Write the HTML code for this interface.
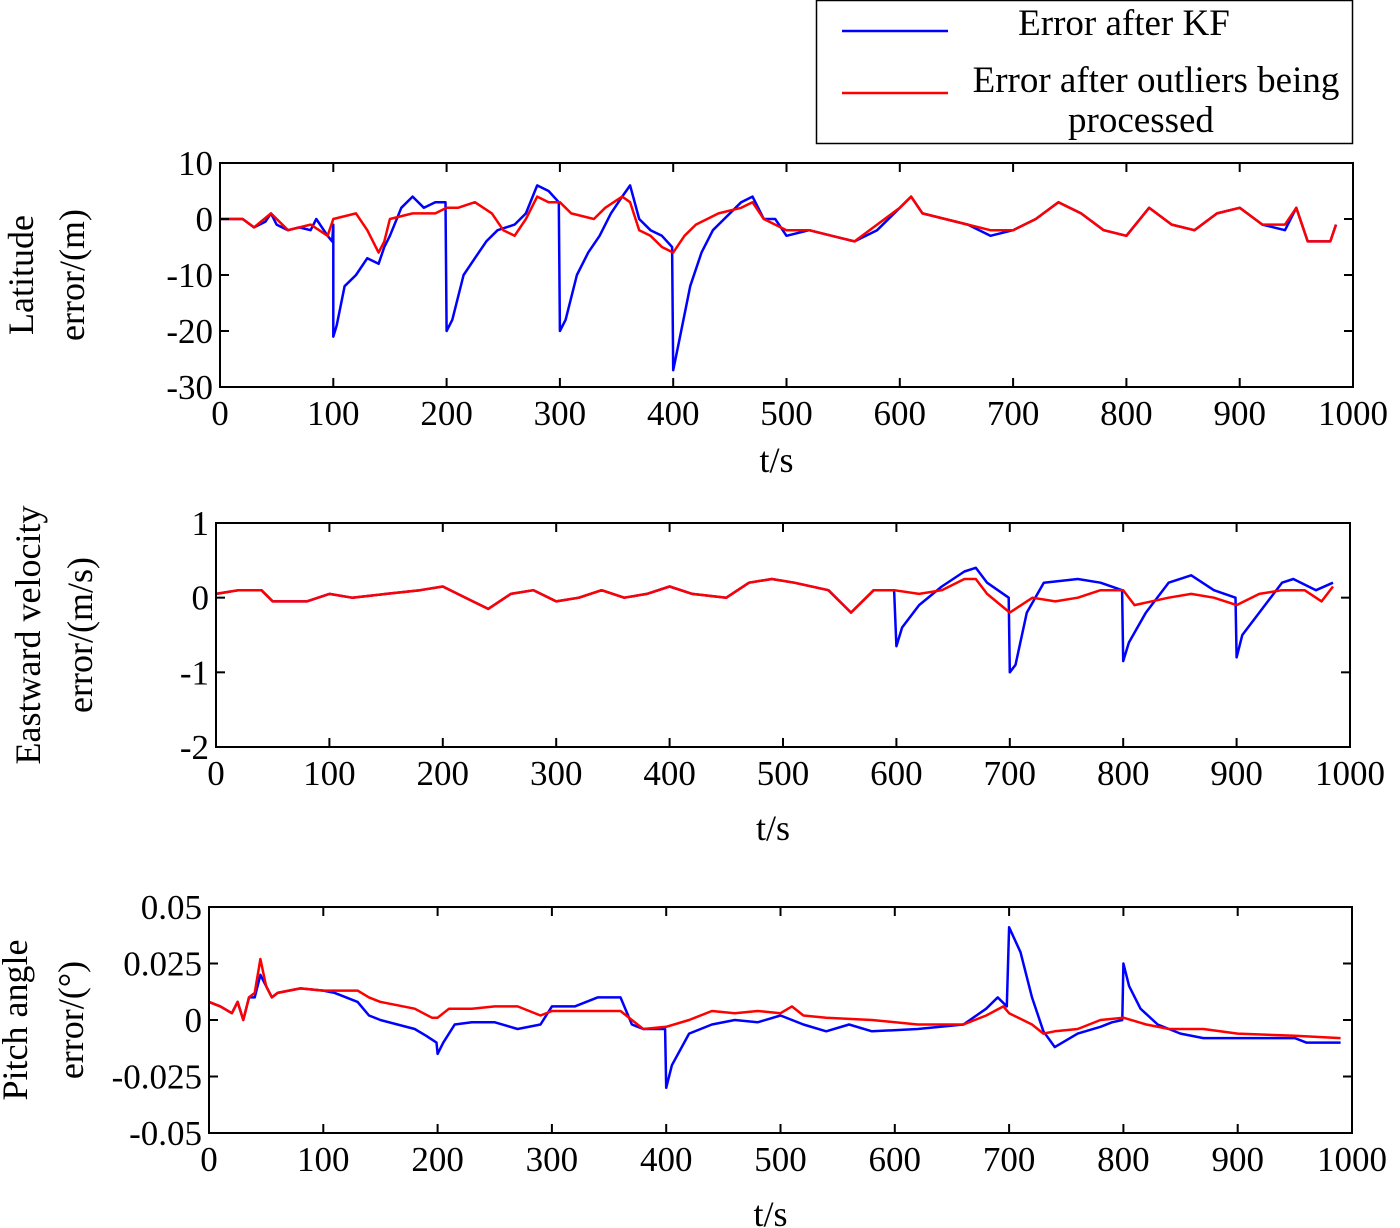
<!DOCTYPE html>
<html><head><meta charset="utf-8"><style>
body{margin:0;background:#fff;}
svg{display:block;font-family:"Liberation Serif",serif;}
</style></head><body>
<svg id="c" width="1400" height="1228" viewBox="0 0 1400 1228">
<g>
<rect x="816.5" y="0.5" width="536" height="143" fill="#fff" stroke="#000" stroke-width="1.5"/>
<line x1="842" y1="31" x2="948" y2="31" stroke="#0000ff" stroke-width="2.5"/>
<text x="1124" y="35" font-size="37" text-anchor="middle">Error after KF</text>
<line x1="842" y1="93" x2="948" y2="93" stroke="#ff0000" stroke-width="2.5"/>
<text x="1156" y="92" font-size="37" text-anchor="middle">Error after outliers being</text>
<text x="1141" y="132" font-size="37" text-anchor="middle">processed</text>
</g>
</svg>
<script>
// Panel 1: latitude error
const latKfT=[0,20,30,40,45,50,60,70,80,85,95,99,100,100,103,110,120,130,140,145,150,160,170,180,190,199,200,205,215,225,235,245,260,270,280,290,299,300,305,315,325,335,345,355,362,370,380,390,399,400,405,415,425,435,445,460,470,480,490,500,520,540,560,580,600,610,620,640,660,680,700,720,740,760,780,800,820,840,860,880,900,920,940,950,960,980,985];
const latKfV=[0,0,-1.5,-0.5,1,-1,-2,-1.5,-2,0,-3,-4,-1,-21,-19,-12,-10,-7,-8,-5,-3,2,4,2,3,3,-20,-18,-10,-7,-4,-2,-1,1,6,5,3,-20,-18,-10,-6,-3,1,4,6,0,-2,-3,-5,-27,-22,-12,-6,-2,0,3,4,0,0,-3,-2,-3,-4,-2,2,4,1,0,-1,-3,-2,0,3,1,-2,-3,2,-1,-2,1,2,-1,-2,2,-4,-4,-1];
const latPrT=[0,20,30,45,60,80,95,100,120,130,140,145,150,170,190,200,210,225,240,250,260,270,280,290,300,310,330,340,355,362,370,380,390,400,410,420,430,440,460,470,480,500,520,540,560,580,600,610,620,640,660,680,700,720,740,760,780,800,820,840,860,880,900,920,940,950,960,980,985];
const latPrV=[0,0,-1.5,1,-2,-1,-3,0,1,-2,-6,-4,0,1,1,2,2,3,1,-2,-3,0,4,3,3,1,0,2,4,3,-2,-3,-5,-6,-3,-1,0,1,2,3,0,-2,-2,-3,-4,-1,2,4,1,0,-1,-2,-2,0,3,1,-2,-3,2,-1,-2,1,2,-1,-1,2,-4,-4,-1];
const latTicks=[10,0,-10,-20,-30];
// Panel 2: eastward velocity error
const velKfT=[0,20,40,50,80,100,120,150,180,200,220,240,260,280,300,320,340,360,380,400,420,450,470,490,510,540,560,580,598,600,605,620,640,660,670,680,699,700,705,715,730,760,780,799,800,805,820,840,860,880,899,900,905,920,940,950,970,985];
const velKfV=[0.05,0.1,0.1,-0.05,-0.05,0.05,0,0.05,0.1,0.15,0,-0.15,0.05,0.1,-0.05,0,0.1,0,0.05,0.15,0.05,0,0.2,0.25,0.2,0.1,-0.2,0.1,0.1,-0.65,-0.4,-0.1,0.15,0.35,0.4,0.2,0,-1,-0.9,-0.2,0.2,0.25,0.2,0.1,-0.85,-0.6,-0.2,0.2,0.3,0.1,0,-0.8,-0.5,-0.2,0.2,0.25,0.1,0.2];
const velPrT=[0,20,40,50,80,100,120,150,180,200,220,240,260,280,300,320,340,360,380,400,420,450,470,490,510,540,560,580,598,620,640,660,670,680,700,720,740,760,780,800,810,840,860,880,900,920,940,960,975,985];
const velPrV=[0.05,0.1,0.1,-0.05,-0.05,0.05,0,0.05,0.1,0.15,0,-0.15,0.05,0.1,-0.05,0,0.1,0,0.05,0.15,0.05,0,0.2,0.25,0.2,0.1,-0.2,0.1,0.1,0.05,0.1,0.25,0.25,0.05,-0.2,0,-0.05,0,0.1,0.1,-0.1,0,0.05,0,-0.1,0.05,0.1,0.1,-0.05,0.15];
const velTicks=[1,0,-1,-2];
// Panel 3: pitch angle error
const pitKfT=[0,10,20,25,30,35,40,45,50,55,60,80,100,110,120,130,140,150,180,190,199,200,205,215,230,250,270,290,300,320,340,360,370,380,399,400,405,420,440,460,480,500,520,540,560,580,620,660,680,690,698,700,710,720,730,740,760,780,790,799,800,805,815,830,850,870,900,950,960,990];
const pitKfV=[0.008,0.006,0.003,0.008,0,0.01,0.01,0.02,0.015,0.01,0.012,0.014,0.013,0.012,0.01,0.008,0.002,0,-0.004,-0.007,-0.01,-0.015,-0.01,-0.002,-0.001,-0.001,-0.004,-0.002,0.006,0.006,0.01,0.01,-0.002,-0.004,-0.004,-0.03,-0.02,-0.006,-0.002,0,-0.001,0.002,-0.002,-0.005,-0.002,-0.005,-0.004,-0.002,0.005,0.01,0.006,0.041,0.03,0.01,-0.005,-0.012,-0.006,-0.003,-0.001,0,0.025,0.015,0.005,-0.002,-0.006,-0.008,-0.008,-0.008,-0.01,-0.01];
const pitPrT=[0,10,20,25,30,35,40,45,50,55,60,80,100,110,120,130,140,150,180,195,200,210,230,250,270,290,300,360,370,380,400,420,440,460,480,500,510,520,540,580,620,660,680,695,700,720,730,740,760,780,800,820,840,870,900,950,990];
const pitPrV=[0.008,0.006,0.003,0.008,0,0.01,0.012,0.027,0.015,0.01,0.012,0.014,0.013,0.013,0.013,0.013,0.01,0.008,0.005,0.001,0.001,0.005,0.005,0.006,0.006,0.002,0.004,0.004,0,-0.004,-0.003,0,0.004,0.003,0.004,0.003,0.006,0.002,0.001,0,-0.002,-0.002,0.002,0.006,0.003,-0.002,-0.006,-0.005,-0.004,0,0.001,-0.002,-0.004,-0.004,-0.006,-0.007,-0.008];
const pitTicks=[0.05,0.025,0,-0.025,-0.05];
const pitTickLabels=["0.05","0.025","0","-0.025","-0.05"];
const xTicks=[0,100,200,300,400,500,600,700,800,900,1000];

const NS="http://www.w3.org/2000/svg";
const svg=document.getElementById('c');
function mk(tag,attrs,parent){const e=document.createElementNS(NS,tag);for(const k in attrs)e.setAttribute(k,attrs[k]);(parent||svg).appendChild(e);return e;}

const panels=[
 {id:'latitude',x0:220,x1:1353,y0:163,y1:387,ymin:-30,ymax:10,ticks:latTicks,labels:latTicks.map(String),
  series:[[latKfT,latKfV,'#0000ff'],[latPrT,latPrV,'#ff0000']],ylab:['Latitude','error/(m)'],ylx:[33,84],xlabY:472},
 {id:'velocity',x0:216,x1:1350,y0:523,y1:747,ymin:-2,ymax:1,ticks:velTicks,labels:velTicks.map(String),
  series:[[velKfT,velKfV,'#0000ff'],[velPrT,velPrV,'#ff0000']],ylab:['Eastward velocity','error/(m/s)'],ylx:[40,92],xlabY:840},
 {id:'pitch',x0:209,x1:1352,y0:907,y1:1133,ymin:-0.05,ymax:0.05,ticks:pitTicks,labels:pitTickLabels,
  series:[[pitKfT,pitKfV,'#0000ff'],[pitPrT,pitPrV,'#ff0000']],ylab:['Pitch angle','error/(°)'],ylx:[27,83],xlabY:1226}
];

panels.forEach(p=>{
 const g=mk('g',{});
 
 
 const sx=t=>p.x0+(t/1000)*(p.x1-p.x0);
 const sy=v=>p.y1-(v-p.ymin)/(p.ymax-p.ymin)*(p.y1-p.y0);
 p.series.forEach((s,i)=>{
  const d=s[0].map((t,j)=>(j?'L':'M')+sx(t).toFixed(1)+','+sy(s[1][j]).toFixed(1)).join('');
  const path=mk('path',{d:d,fill:'none',stroke:s[2],'stroke-width':2.5,'stroke-linejoin':'round'},g);
  
  
 });
 const fr=mk('rect',{x:p.x0,y:p.y0,width:p.x1-p.x0,height:p.y1-p.y0,fill:'none',stroke:'#000','stroke-width':2},g);
 
 
 xTicks.forEach(t=>{
  const x=sx(t);
  mk('line',{x1:x,x2:x,y1:p.y1,y2:p.y1-9,stroke:'#000','stroke-width':2},g);
  mk('line',{x1:x,x2:x,y1:p.y0,y2:p.y0+9,stroke:'#000','stroke-width':2},g);
  const tx=mk('text',{x:x,y:p.y1+38,'font-size':35,'text-anchor':'middle'},g);
  tx.textContent=t;
  
  
 });
 p.ticks.forEach((v,i)=>{
  const y=sy(v);
  mk('line',{x1:p.x0,x2:p.x0+9,y1:y,y2:y,stroke:'#000','stroke-width':2},g);
  mk('line',{x1:p.x1,x2:p.x1-9,y1:y,y2:y,stroke:'#000','stroke-width':2},g);
  const tx=mk('text',{x:p.x0-7,y:y+12,'font-size':35,'text-anchor':'end'},g);
  tx.textContent=p.labels[i];
  
  
 });
 const xl=mk('text',{x:(p.x0+p.x1)/2-10,y:p.xlabY,'font-size':36,'text-anchor':'middle'},g);
 xl.textContent='t/s';
 
 
 const cy=(p.y0+p.y1)/2;
 p.ylab.forEach((s,i)=>{
  const t=mk('text',{x:p.ylx[i],y:cy,'font-size':36,'text-anchor':'middle',transform:'rotate(-90 '+p.ylx[i]+' '+cy+')'},g);
  t.textContent=s;
  
  
 });
});
</script>
</body></html>
